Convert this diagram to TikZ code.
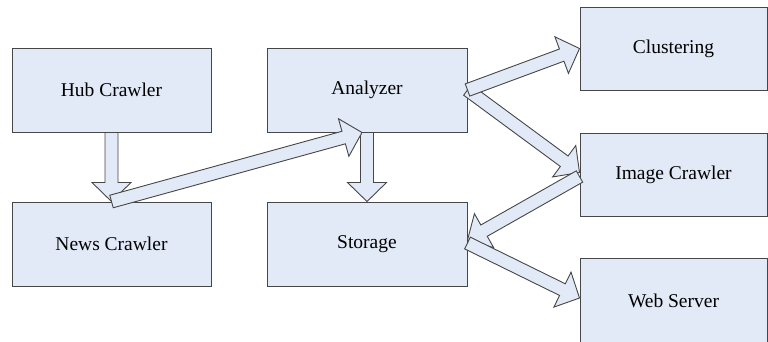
\documentclass[tikz,border=0pt]{standalone}
\usepackage{fontspec}
\setmainfont{Liberation Serif}
\usetikzlibrary{calc}
\definecolor{boxfill}{RGB}{226,234,247}
\definecolor{edgegray}{RGB}{70,70,70}
\tikzset{
    box/.style={draw=edgegray, fill=boxfill, line width=1pt, minimum width=199pt, minimum height=84pt, inner sep=0pt, font=\fontsize{19.5}{23}\selectfont},
    fatarrow/.style={draw=edgegray, fill=boxfill, line width=0.9pt, line join=miter}
}
\newcommand{\blockarrow}[2]{
    \coordinate (ba-h) at ($(#2)!19pt!(#1)$);
    \draw[fatarrow] ($(#1)!6.5pt!90:(#2)$) -- ($(ba-h)!6.5pt!90:(#2)$) -- ($(ba-h)!19.5pt!90:(#2)$) -- (#2)
        -- ($(ba-h)!19.5pt!-90:(#2)$) -- ($(ba-h)!6.5pt!-90:(#2)$) -- ($(#1)!6.5pt!-90:(#2)$) -- cycle;
}
\begin{document}
\begin{tikzpicture}[x=1pt, y=-1pt]
    	\useasboundingbox (0,0) rectangle (768,341);
    	\node[box] (hub) at (111.5,90) {Hub Crawler};
    	\node[box] (news) at (111.5,244) {News Crawler};
    	\node[box, minimum width=200pt] (analyzer) at (367,90) {Analyzer};
    	\node[box, minimum width=200pt] (storage) at (367,244) {Storage};
    	\node[box, minimum width=187pt, minimum height=83pt] (clustering) at (673.5,48.5) {Clustering};
    	\node[box, minimum width=187pt, minimum height=83pt] (image) at (673.5,174.5) {Image Crawler};
    	\node[box, minimum width=187pt, minimum height=86pt] (web) at (673.5,301) {Web Server};
    	\blockarrow{hub.south}{news.north}
    	\blockarrow{analyzer.south}{storage.north}
    	\blockarrow{news.north}{$(analyzer.south)+(-5,0)$}
    	\blockarrow{analyzer.east}{$(image.west)+(0,-2)$}
    	\blockarrow{analyzer.east}{clustering.west}
    	\blockarrow{$(image.west)+(0,2)$}{$(storage.east)+(0,-4)$}
    	\blockarrow{$(storage.east)+(0,-1)$}{$(web.west)+(0,-3)$}
\end{tikzpicture}
\end{document}
